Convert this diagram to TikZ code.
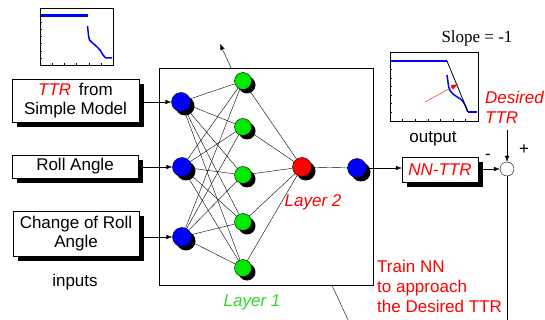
\documentclass[tikz,border=0pt]{standalone}
\usepackage{fontspec}
\setmainfont{Liberation Sans}
\newfontfamily\timesfont{Liberation Serif}
\usetikzlibrary{arrows.meta,shadows}
\definecolor{nngreen}{RGB}{0,235,0}
\definecolor{lblgreen}{RGB}{40,220,40}

\tikzset{
  inbox/.style={draw, fill=white, align=center, inner sep=0pt,
    general shadow={fill=black, shadow xshift=5pt, shadow yshift=-5pt}},
  neuron/.style={circle, draw, inner sep=0pt, minimum size=19pt,
    general shadow={fill=black, shadow xshift=4pt, shadow yshift=-4pt}},
  hidden/.style={neuron, fill=nngreen, minimum size=17pt},
  tip/.style={-{Latex[length=6pt,width=4.5pt]}},
  curve/.style={blue, line width=2.4pt, line join=round},
  drop/.style={blue, line width=1.5pt, line join=round},
}

\begin{document}
\begin{tikzpicture}[x=1pt,y=-1pt,font=\fontsize{17}{19}\selectfont]
\useasboundingbox (0,0) rectangle (545,320);

% small plot above the inputs
\draw[line width=0.9pt] (40,8) rectangle (113,65);
\foreach \k in {1,...,7} \draw[line width=0.3pt] (40,8+\k*7.125) -- ++(1.5,0);
\foreach \k in {1,...,5} \draw[line width=0.3pt] (40+\k*12.17,65) -- ++(0,-1.5);
\draw[curve] (41,15.5) -- (88,15.5);
\draw[drop] plot[smooth] coordinates {(87.5,26) (88.3,33) (89.5,40) (95,45) (100,50) (103,55) (106,58)} -- (112,58);

% training arrow behind the network
\coordinate (trstart) at (349,322);
\coordinate (trend) at (220,44);
\draw[tip] (trstart) -- (trend);
\node[draw, fill=white, minimum width=214pt, minimum height=217pt] (nnbox) at (266,176.5) {};

% inputs
\node[inbox, minimum width=127pt, minimum height=43pt] (ttr) at (75.5,100.5)
  {\textcolor{red}{\textit{TTR}}\, from\\Simple Model};
\node[inbox, minimum width=126pt, minimum height=23pt] (roll) at (75,166.5) {Roll Angle};
\node[inbox, minimum width=126pt, minimum height=45pt] (droll) at (76,233.5)
  {Change of Roll\\Angle};
\node (inputs) at (75,282) {inputs};

% network
\node[neuron, fill=blue] (in1) at (181,102) {};
\node[neuron, fill=blue] (in2) at (182,167) {};
\node[neuron, fill=blue] (in3) at (182,237) {};
\foreach \i/\y in {1/81,2/127,3/175,4/222,5/268}
  \node[hidden] (h\i) at (243,\y) {};
\node[neuron, fill=red] (l2) at (302,167) {};
\node[neuron, fill=blue] (out) at (357,168) {};
\foreach \i in {1,2,3}
  \foreach \j in {1,...,5}
    \draw (in\i) -- (h\j);
\foreach \j in {1,...,5}
  \draw (h\j) -- (l2);
\draw (l2) -- (out);
\node[text=red, font=\fontsize{17}{19}\selectfont\itshape] (lay2) at (313,202) {Layer 2};
\node[text=lblgreen, font=\fontsize{17}{19}\selectfont\itshape] (lay1) at (252,302) {Layer 1};

\draw[tip] ([xshift=5pt]ttr.east |- in1) -- (in1.west);
\draw[tip] ([xshift=5pt]roll.east |- in2) -- (in2.west);
\draw[tip] ([xshift=5pt]droll.east |- in3) -- (in3.west);

% desired output plot
\draw[line width=0.9pt] (390,52) rectangle (478,121);
\foreach \k in {1,...,7} \draw[line width=0.3pt] (390,52+\k*8.6) -- ++(1.5,0);
\foreach \k in {1,...,6} \draw[line width=0.3pt] (390+\k*12.6,121) -- ++(0,-1.5);
\draw[curve] (391,61) -- (447,61);
\draw[drop] plot[smooth] coordinates {(447,75) (447.7,80) (449,88) (451.7,92.7) (456.7,96.7) (461.7,100) (465,105) (467.7,111.7)};
\draw[curve] (467.7,112) -- (477,112);
\draw[line width=0.8pt] (447,61) -- (468,112);
\draw[red, -{Latex[length=7pt,width=5pt]}] (425,102) -- (458,84);
\node[font=\fontsize{17}{19}\selectfont\timesfont] (slope) at (477,38) {Slope = -1};
\node[text=red, align=left, anchor=west, inner sep=0pt,
  font=\fontsize{17}{20}\selectfont\itshape] (desired) at (485,107) {Desired\\TTR};
\node (output) at (433,139) {output};

% output and comparison
\node[inbox, minimum width=76pt, minimum height=25pt, text=red,
  font=\fontsize{17}{19}\selectfont\itshape] (nnttr) at (440,169.5) {NN-TTR};
\node[circle, draw, minimum size=14pt, inner sep=0pt] (sum) at (507,169) {};
\draw[tip] (out.east) -- (out.east -| nnttr.west);
\draw[tip] ([xshift=5pt]nnttr.east |- sum) -- (sum.west);
\coordinate (ref) at (507,130);
\draw[tip] (ref) -- (sum.north);
\coordinate (fb) at (507,322);
\draw (sum.south) -- (fb);
\node (minus) at (488,157) {-};
\node (plus) at (524,150) {+};
\node[text=red, align=left, anchor=west, inner sep=0pt,
  font=\fontsize{17}{20}\selectfont] (train) at (377,286)
  {Train NN\\to approach\\the Desired TTR};
\end{tikzpicture}
\end{document}
